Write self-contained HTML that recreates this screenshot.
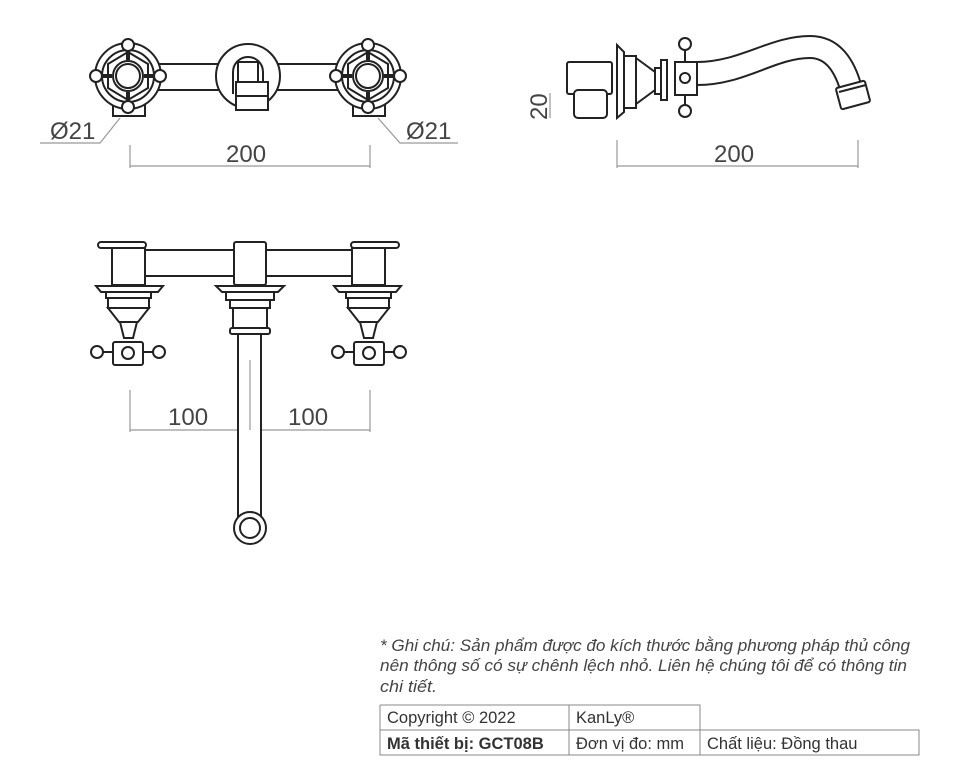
<!DOCTYPE html>
<html><head><meta charset="utf-8"><style>
html,body{margin:0;padding:0;background:#fff;}
svg{display:block}
text{font-family:"Liberation Sans",sans-serif;}
</style></head><body>
<svg width="960" height="780" viewBox="0 0 960 780" xmlns="http://www.w3.org/2000/svg">
<g fill="none" stroke="#222" stroke-width="2">
<!-- TOP VIEW -->
<rect x="150" y="64" width="200" height="26" fill="#fff"/>
<g id="h1">
<rect x="113" y="100" width="32" height="16" fill="#fff"/>
<circle cx="128" cy="76" r="33" fill="#fff"/>
<circle cx="128" cy="76" r="26"/>
<polygon points="128,52 148,64 148,88 128,100 108,88 108,64"/>
<circle cx="128" cy="76" r="15"/>
<circle cx="128" cy="76" r="12"/>
<path d="M128 50 V60 M128 92 V102 M102 76 H112 M144 76 H154" stroke-width="4"/>
<circle cx="128" cy="45" r="6" fill="#fff"/><circle cx="128" cy="107" r="6" fill="#fff"/>
<circle cx="96" cy="76" r="6" fill="#fff"/><circle cx="160" cy="76" r="6" fill="#fff"/>
</g>
<use href="#h1" x="240"/>
<circle cx="248" cy="76" r="32" fill="#fff"/>
<path d="M233 94 V72 A15 15 0 0 1 263 72 V94"/>
<rect x="238" y="62" width="20" height="28"/>
<rect x="236" y="82" width="32" height="28" fill="#fff"/>
<line x1="236" y1="96" x2="268" y2="96"/>
</g>
<g stroke="#999" stroke-width="1.2" fill="none">
<path d="M40 143 H100 L120 118"/>
<path d="M458 143 H400 L378 118"/>
<path d="M130 145 V168 M370 145 V168 M130 166 H370"/>
<path d="M617 140 V168 M858 140 V168 M617 166 H858"/>
<path d="M550 93 V118"/>
<path d="M130 390 V432 M250 340 V432 M370 390 V432 M130 430 H370"/>
</g>
<g fill="#444" font-size="24">
<text x="50" y="139">Ø21</text>
<text x="406" y="139">Ø21</text>
<text x="226" y="162">200</text>
<text x="714" y="162">200</text>
<text x="168" y="425">100</text>
<text x="288" y="425">100</text>
<text transform="translate(547,120) rotate(-90)">20</text>
</g>
<!-- SIDE VIEW -->
<g fill="#fff" stroke="#222" stroke-width="2">
<path d="M697 62 C740 62 770 36 810 36 C840 36 855 60 862 88 L842 96 C835 70 825 58 810 58 C775 58 745 85 697 85 Z"/>
<rect x="838" y="84" width="30" height="22" rx="2" transform="rotate(-15 853 95)"/>
<line x1="839" y1="92" x2="866" y2="85"/>
<rect x="567" y="62" width="45" height="32" rx="2"/>
<rect x="574" y="90" width="33" height="28" rx="4"/>
<path d="M617 45 L624 52 V112 L617 118 Z"/>
<path d="M624 56 H636 V108 H624 Z"/>
<path d="M636 58 L655 72 V90 L636 104 Z"/>
<rect x="655" y="68" width="10" height="26"/>
<rect x="661" y="60" width="6" height="40"/>
<line x1="685" y1="45" x2="685" y2="110"/>
<rect x="675" y="62" width="22" height="33"/>
<circle cx="685" cy="78" r="5"/>
<circle cx="685" cy="44" r="6"/><circle cx="685" cy="111" r="6"/>
</g>
<!-- FRONT VIEW -->
<g fill="#fff" stroke="#222" stroke-width="2">
<rect x="238" y="330" width="23" height="190"/>
<circle cx="250" cy="528" r="16"/><circle cx="250" cy="528" r="10"/>
<rect x="140" y="250" width="100" height="26" rx="6"/>
<rect x="260" y="250" width="100" height="26" rx="6"/>
<g id="fv">
<rect x="98" y="242" width="48" height="6" rx="3"/>
<rect x="112" y="248" width="33" height="37"/>
<path d="M96 286 H163 L158 292 H101 Z"/>
<rect x="106" y="292" width="45" height="6"/>
<rect x="108" y="298" width="41" height="10"/>
<path d="M108 308 H149 L138 322 H119 Z"/>
<path d="M120 322 H137 L133 338 H124 Z"/>
<rect x="113" y="342" width="30" height="23" rx="2"/>
<circle cx="128" cy="353" r="6"/>
<line x1="103" y1="352" x2="113" y2="352"/><line x1="143" y1="352" x2="153" y2="352"/>
<circle cx="97" cy="352" r="6"/><circle cx="159" cy="352" r="6"/>
</g>
<use href="#fv" transform="translate(497,0) scale(-1,1)"/>
<rect x="234" y="242" width="32" height="43" rx="2"/>
<path d="M216 286 H284 L278 292 H222 Z"/>
<rect x="226" y="292" width="48" height="8"/>
<rect x="230" y="300" width="40" height="8"/>
<rect x="233" y="308" width="34" height="22"/>
<rect x="230" y="328" width="40" height="6" rx="2"/>
</g>
<line x1="250" y1="360" x2="250" y2="430" stroke="#999" stroke-width="1.2"/>
<!-- NOTE -->
<g fill="#444" font-size="16.5" font-style="italic">
<text x="380" y="651" textLength="530" lengthAdjust="spacingAndGlyphs">* Ghi chú: Sản phẩm được đo kích thước bằng phương pháp thủ công</text>
<text x="380" y="671" textLength="527" lengthAdjust="spacingAndGlyphs">nên thông số có sự chênh lệch nhỏ. Liên hệ chúng tôi để có thông tin</text>
<text x="380" y="692" textLength="57" lengthAdjust="spacingAndGlyphs">chi tiết.</text>
</g>
<g stroke="#888" stroke-width="1" fill="none">
<path d="M380 705 H700 V730 M380 705 V755 H919 V730 H380 M569 705 V755 M700 730 V755"/>
</g>
<g fill="#333" font-size="16.5">
<text x="387" y="723">Copyright © 2022</text>
<text x="576" y="723">KanLy®</text>
<text x="387" y="749" font-weight="bold">Mã thiết bị: GCT08B</text>
<text x="576" y="749">Đơn vị đo: mm</text>
<text x="707" y="749">Chất liệu: Đồng thau</text>
</g>
</svg>
</body></html>
